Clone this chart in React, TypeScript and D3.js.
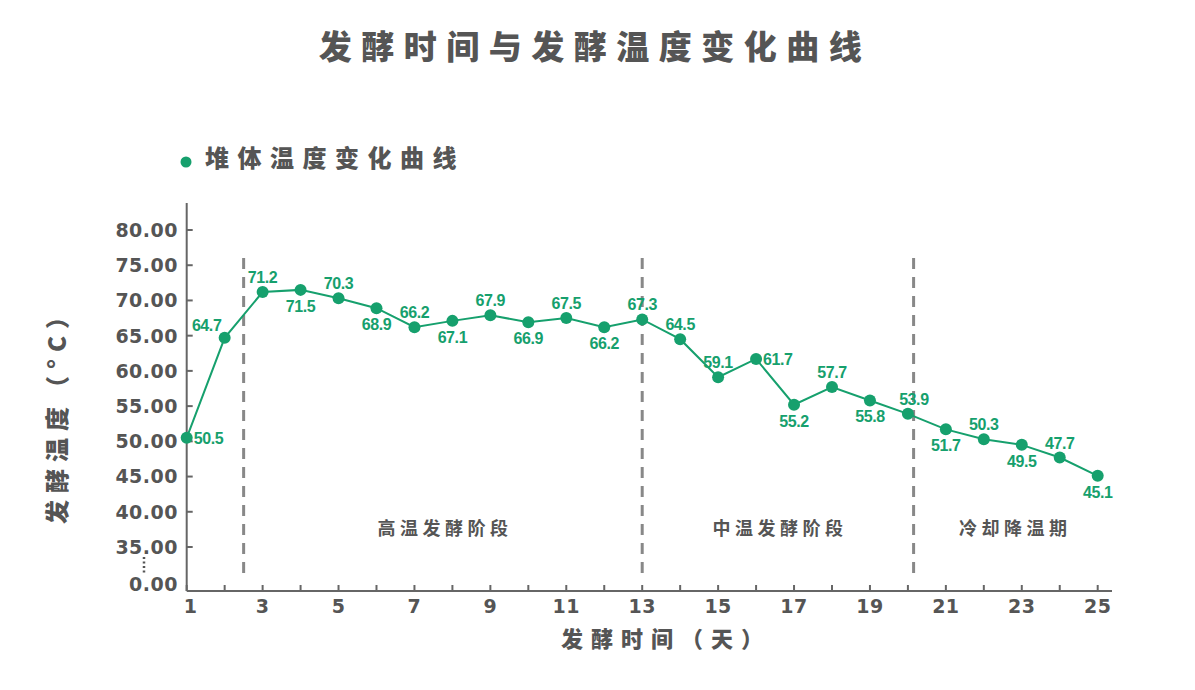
import React from "react";
import * as d3 from "d3";

const days = [1,2,3,4,5,6,7,8,9,10,11,12,13,14,15,16,17,18,19,20,21,22,23,24,25];
const temps = [50.5,64.7,71.2,71.5,70.3,68.9,66.2,67.1,67.9,66.9,67.5,66.2,67.3,64.5,59.1,61.7,55.2,57.7,55.8,53.9,51.7,50.3,49.5,47.7,45.1];
// label placement: a = above, b = below, r = right, l = above-left
const labelPos = ["r","l","a","b","a","b","a","b","a","b","a","b","a","a","a","r","b","a","b","a","b","a","b","a","b"];
const yTicks = [0,35,40,45,50,55,60,65,70,75,80];
const xTickLabels = [1,3,5,7,9,11,13,15,17,19,21,23,25];
const phaseDividers = [2.5, 13, 20.15];
const phases = [
  { name: "高温发酵阶段", from: 2.5, to: 13 },
  { name: "中温发酵阶段", from: 13, to: 20.15 },
  { name: "冷却降温期", from: 20.15, to: 25.4 },
];

const GREEN = "#16a06d";
const GRAY = "#555555";
const FONT = "'Noto Sans CJK SC', 'Noto Sans', sans-serif";
const NUMFONT = "'DejaVu Sans', sans-serif";
const LABELFONT = "'Liberation Sans', Arial, sans-serif";

export default function App() {
  const x = d3.scaleLinear().domain([1, 25]).range([186.7, 1097.7]);
  const y = d3.scaleLinear().domain([0, 35, 80]).range([584, 547, 230]);
  const axisY = 591;
  const axisX = 186.7;
  const line = d3.line<number>().x((_, i) => x(days[i])).y((d) => y(d));

  return (
    <svg width={1195} height={690} style={{ position: "absolute", left: 0, top: 0, background: "#fff" }} fontFamily={FONT}>
      <rect width={1195} height={690} fill="#fff" />
      {/* title */}
      <text x={590 + 5} y={59} textAnchor="middle" fontSize={33} fontWeight={900} fill={GRAY} letterSpacing={9.5}>
        发酵时间与发酵温度变化曲线
      </text>
      {/* legend */}
      <circle cx={186} cy={162} r={5.5} fill={GREEN} />
      <text x={205} y={167} fontSize={24} fontWeight={900} fill={GRAY} letterSpacing={8.5}>
        堆体温度变化曲线
      </text>

      {/* dashed phase dividers */}
      {phaseDividers.map((d) => (
        <line key={d} x1={x(d)} x2={x(d)} y1={258} y2={574} stroke="#888" strokeWidth={3} strokeDasharray="11,8" />
      ))}
      {phases.map((p) => (
        <text key={p.name} x={(x(p.from) + x(Math.min(p.to, 25.4))) / 2 + 2} y={535} textAnchor="middle" fontSize={18} fontWeight={700} fill={GRAY} letterSpacing={4.5}>
          {p.name}
        </text>
      ))}

      {/* axes */}
      <line x1={axisX} x2={axisX} y1={203} y2={axisY} stroke="#666" strokeWidth={2} />
      <line x1={axisX} x2={1112} y1={axisY} y2={axisY} stroke="#666" strokeWidth={2} />
      {yTicks.filter((t) => t !== 0).map((t) => (
        <line key={"yt" + t} x1={axisX} x2={axisX + 6} y1={y(t)} y2={y(t)} stroke="#666" strokeWidth={2} />
      ))}
      {yTicks.map((t) => (
        <text key={"yl" + t} x={178} y={y(t)} dy="0.36em" textAnchor="end" fontFamily={NUMFONT} fontSize={19} fontWeight={700} fill={GRAY} letterSpacing={0.5}>
          {t.toFixed(2)}
        </text>
      ))}
      <line x1={144} x2={144} y1={557} y2={574} stroke={GRAY} strokeWidth={2.5} strokeDasharray="2,2.5" />
      {days.map((d) => (
        <line key={"xt" + d} x1={x(d)} x2={x(d)} y1={axisY} y2={axisY - 6} stroke="#666" strokeWidth={2} />
      ))}
      {xTickLabels.map((d) => (
        <text key={"xl" + d} x={x(d) + (d === 1 ? 4 : 0)} y={613} textAnchor="middle" fontFamily={NUMFONT} fontSize={19} fontWeight={700} fill={GRAY} letterSpacing={0.5}>
          {d}
        </text>
      ))}

      {/* axis titles */}
      <text transform={`translate(66,${411}) rotate(-90)`} textAnchor="middle" fontSize={24} fontWeight={900} fill={GRAY} letterSpacing={7}>
        发酵温度（°C）
      </text>
      <text x={666} y={647} textAnchor="middle" fontSize={22} fontWeight={900} fill={GRAY} letterSpacing={8}>
        发酵时间（天）
      </text>

      {/* series */}
      <path d={line(temps) || ""} fill="none" stroke={GREEN} strokeWidth={2} />
      {temps.map((v, i) => (
        <circle key={"p" + i} cx={x(days[i])} cy={y(v)} r={6} fill={GREEN} />
      ))}
      {temps.map((v, i) => {
        const px = x(days[i]);
        const py = y(v);
        const pos = labelPos[i];
        let tx = px, ty = py - 9, anchor = "middle";
        if (pos === "b") ty = py + 22;
        if (pos === "r") { tx = px + 7; ty = py + 6; anchor = "start"; }
        if (pos === "l") { tx = px - 18; ty = py - 7; }
        if (i === 19) tx = px + 6;
        return (
          <text key={"lb" + i} x={tx} y={ty} textAnchor={anchor} fontFamily={LABELFONT} fontSize={16} fontWeight={700} fill={GREEN} letterSpacing={-0.4}>
            {v.toFixed(1)}
          </text>
        );
      })}
    </svg>
  );
}
